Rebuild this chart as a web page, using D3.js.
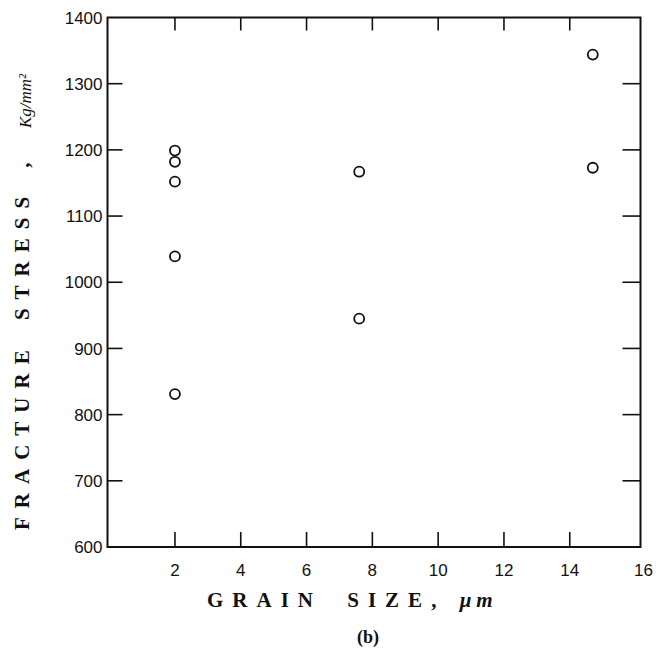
<!DOCTYPE html>
<head>
<meta charset="utf-8">
<style>
    body { margin: 0; background: #fff; }
    text.tick { font-family: "Liberation Sans", Arial, sans-serif; font-size: 17px; fill: #111; }
    text.title { font-family: "Liberation Serif", "DejaVu Serif", serif; font-weight: bold; font-size: 21px; fill: #111; }
</style>
<script src="https://d3js.org/d3.v7.min.js"></script>
</head>
<body>
<script>
// values
var grainSize = [2, 2, 2, 2, 2, 7.6, 7.6, 14.7, 14.7];
var stress    = [1199, 1182, 1152, 1039, 831, 1167, 945, 1344, 1173];
var xTicks = [2, 4, 6, 8, 10, 12, 14, 16];
var yTicks = [600, 700, 800, 900, 1000, 1100, 1200, 1300, 1400];

var width = 660, height = 655;
var frame = {left: 107.5, right: 640.5, top: 17.5, bottom: 547};

var svg = d3.select("body").append("svg")
    .attr("width", width)
    .attr("height", height);

var x = d3.scaleLinear()
    .domain([-0.05, 16.15])
    .range([frame.left, frame.right]);

var y = d3.scaleLinear()
    .domain([600, 1400])
    .range([frame.bottom, frame.top]);

// frame
svg.append("rect")
    .attr("x", frame.left)
    .attr("y", frame.top)
    .attr("width", frame.right - frame.left)
    .attr("height", frame.bottom - frame.top)
    .attr("fill", "none")
    .attr("stroke", "#111")
    .attr("stroke-width", 2);

// inward ticks on all four sides
var inner = xTicks.filter(function(d) { return d < 16; });
var innerY = yTicks.filter(function(d) { return d > 600 && d < 1400; });

svg.append("g").selectAll("line")
    .data(inner)
    .enter().append("line")
    .attr("x1", function(d) { return x(d); })
    .attr("x2", function(d) { return x(d); })
    .attr("y1", frame.bottom)
    .attr("y2", frame.bottom - 15)
    .attr("stroke", "#111").attr("stroke-width", 1.6);

svg.append("g").selectAll("line")
    .data(inner)
    .enter().append("line")
    .attr("x1", function(d) { return x(d); })
    .attr("x2", function(d) { return x(d); })
    .attr("y1", frame.top)
    .attr("y2", frame.top + 13)
    .attr("stroke", "#111").attr("stroke-width", 1.6);

svg.append("g").selectAll("line")
    .data(innerY)
    .enter().append("line")
    .attr("x1", frame.left)
    .attr("x2", frame.left + 15)
    .attr("y1", function(d) { return y(d); })
    .attr("y2", function(d) { return y(d); })
    .attr("stroke", "#111").attr("stroke-width", 1.6);

svg.append("g").selectAll("line")
    .data(innerY)
    .enter().append("line")
    .attr("x1", frame.right)
    .attr("x2", frame.right - 18)
    .attr("y1", function(d) { return y(d); })
    .attr("y2", function(d) { return y(d); })
    .attr("stroke", "#111").attr("stroke-width", 1.6);

// tick labels
svg.append("g").selectAll("text")
    .data(yTicks)
    .enter().append("text")
    .attr("class", "tick")
    .attr("x", frame.left - 5)
    .attr("y", function(d) { return y(d); })
    .attr("dy", "0.36em")
    .attr("text-anchor", "end")
    .text(function(d) { return d; });

svg.append("g").selectAll("text")
    .data(xTicks)
    .enter().append("text")
    .attr("class", "tick")
    .attr("x", function(d) { return x(d) + (d == 16 ? 8 : 0); })
    .attr("y", frame.bottom + 29)
    .attr("text-anchor", "middle")
    .text(function(d) { return d; });

// points
svg.append("g").selectAll("circle")
    .data(d3.range(stress.length))
    .enter().append("circle")
    .attr("cx", function(i) { return x(grainSize[i]); })
    .attr("cy", function(i) { return y(stress[i]); })
    .attr("r", 5)
    .attr("fill", "none")
    .attr("stroke", "#111")
    .attr("stroke-width", 1.8);

// axis titles
var xt = svg.append("text")
    .attr("class", "title")
    .attr("x", 207)
    .attr("y", 607)
    .style("letter-spacing", "9px");
xt.append("tspan").text("GRAIN");
xt.append("tspan").attr("dx", 11).text(" SIZE, ");
xt.append("tspan")
    .style("font-style", "italic")
    .style("letter-spacing", "5px")
    .text("\u03bcm");

svg.append("text")
    .attr("class", "title")
    .attr("x", 368)
    .attr("y", 643)
    .attr("text-anchor", "middle")
    .style("font-size", "18px")
    .text("(b)");

var yt = svg.append("text")
    .attr("class", "title")
    .attr("transform", "translate(29,530) rotate(-90)")
    .style("letter-spacing", "9px");
yt.append("tspan").text("FRACTURE");
yt.append("tspan").attr("dx", 7).text(" STRESS");
yt.append("tspan").attr("dx", 20).text(",");

svg.append("text")
    .attr("transform", "translate(31,128) rotate(-90)")
    .style("font-family", "'Liberation Serif', serif")
    .style("font-style", "italic")
    .style("font-size", "17px")
    .attr("fill", "#111")
    .text("Kg/mm\u00b2");
</script>
</body>
